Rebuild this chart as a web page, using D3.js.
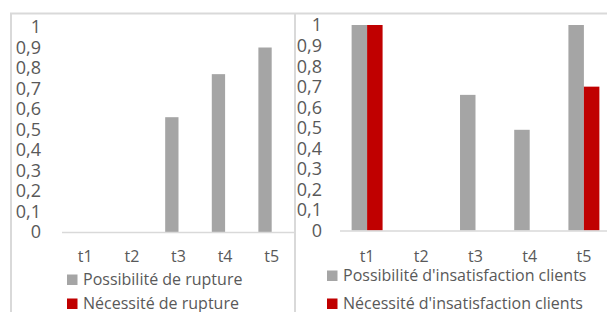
<!DOCTYPE html>
<html><head><meta charset="utf-8">
<script src="https://cdn.jsdelivr.net/npm/d3@7"></script>
<style>body{margin:0;background:#fff}svg{display:block}text{font-family:"Open Sans",sans-serif;fill:#595959}</style>
</head><body><svg id="c" width="607" height="312"></svg>
<script>
const categories = ["t1","t2","t3","t4","t5"];
const possRupture = [0, 0, 0.56, 0.77, 0.90];
const necRupture = [0, 0, 0, 0, 0];
const possInsat = [1, 0, 0.66, 0.49, 1];
const necInsat = [1, 0, 0, 0, 0.70];
const yTicks = [0,0.1,0.2,0.3,0.4,0.5,0.6,0.7,0.8,0.9,1];
const legendLeft = ["Possibilité de rupture","Nécessité de rupture"];
const legendRight = ["Possibilité d'insatisfaction clients","Nécessité d'insatisfaction clients"];
const colors = ["#a5a5a5","#c00000"];

const svg = d3.select("#c");
svg.append("rect").attr("width",607).attr("height",312).attr("fill","#fff");
const fmt = d => String(+d.toFixed(1)).replace(".",",");

function panel(cfg){
  const g = svg.append("g");
  const x = d3.scaleBand().domain(categories).range([cfg.x0,cfg.x1]).paddingInner(1.5/3.5).paddingOuter(0.75/3.5);
  const xs = d3.scaleBand().domain([0,1]).range([0,x.bandwidth()]);
  const y = d3.scaleLinear().domain([0,1]).range([cfg.y0,cfg.y1]);
  [cfg.s1,cfg.s2].forEach((s,si)=>{
    g.selectAll(null).data(s).enter().append("rect")
      .attr("x",(d,i)=>x(categories[i])+xs(si)).attr("width",xs.bandwidth())
      .attr("y",d=>y(d)).attr("height",d=>y(0)-y(d)).attr("fill",colors[si]);
  });
  g.append("line").attr("x1",cfg.x0).attr("x2",Math.min(cfg.x1,607)).attr("y1",y(0)+0.5).attr("y2",y(0)+0.5)
    .attr("stroke","#d9d9d9").attr("stroke-width",1.5);
  g.selectAll(null).data(yTicks).enter().append("text")
    .attr("x",cfg.tx).attr("y",d=>y(d)).attr("dy","0.36em").attr("text-anchor","end")
    .style("font-size","18px").text(fmt);
  g.selectAll(null).data(categories).enter().append("text")
    .attr("x",d=>x(d)+x.bandwidth()/2).attr("y",cfg.xly).attr("text-anchor","middle")
    .style("font-size","16px").text(d=>d);
  cfg.legend.forEach((t,i)=>{
    g.append("rect").attr("x",cfg.lx).attr("y",cfg.ly[i]-10.5).attr("width",10.5).attr("height",10.5).attr("fill",colors[i]);
    g.append("text").attr("x",cfg.lx+16).attr("y",cfg.ly[i]).style("font-size","16px").text(t);
  });
}
panel({x0:62,x1:295,y0:232,y1:27,tx:41,xly:262,s1:possRupture,s2:necRupture,legend:legendLeft,lx:67,ly:[285,309]});
panel({x0:340,x1:611,y0:230.5,y1:25,tx:322,xly:262,s1:possInsat,s2:necInsat,legend:legendRight,lx:327,ly:[281,309]});

// chart borders
const bc="#d9d9d9";
svg.append("line").attr("x1",10).attr("x2",607).attr("y1",13.5).attr("y2",13.5).attr("stroke",bc).attr("stroke-width",2);
svg.append("line").attr("x1",11).attr("x2",11).attr("y1",13).attr("y2",312).attr("stroke",bc).attr("stroke-width",2);
svg.append("line").attr("x1",295).attr("x2",295).attr("y1",13).attr("y2",312).attr("stroke",bc).attr("stroke-width",2);
</script></body></html>
